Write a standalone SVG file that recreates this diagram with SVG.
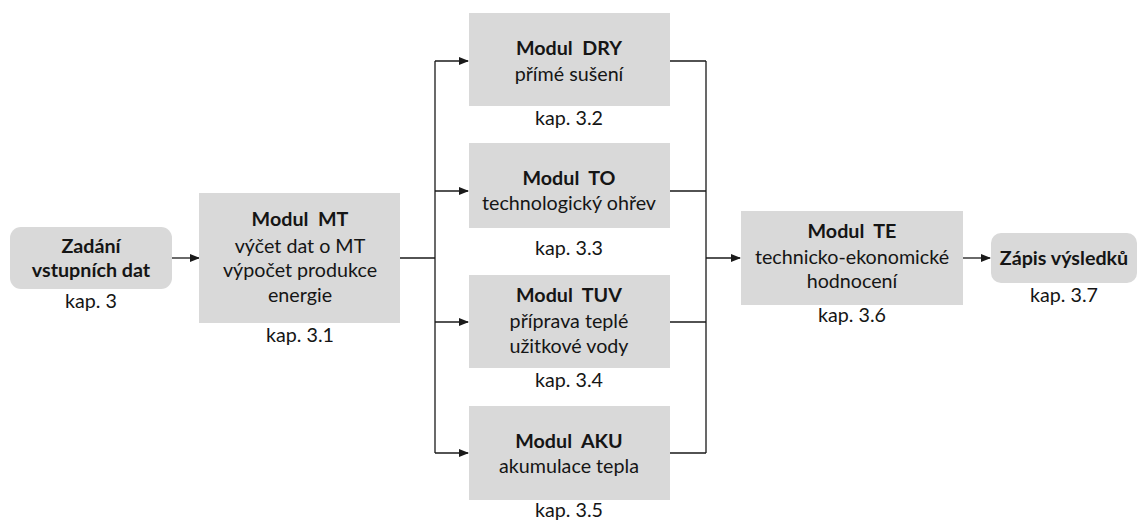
<svg xmlns="http://www.w3.org/2000/svg" width="1146" height="522" viewBox="0 0 1146 522">
<style>
text{font-family:Lato,"Open Sans","DejaVu Sans",sans-serif;font-size:19.7px;fill:#151515;text-anchor:middle;white-space:pre}
.b{font-weight:bold}
.box{fill:#d9d9d9}
.ln{stroke:#1a1a1a;stroke-width:1.3;fill:none}
</style>
<defs>
<marker id="ah" markerWidth="10" markerHeight="8" refX="9" refY="4" orient="auto" markerUnits="userSpaceOnUse">
<path d="M0,0 L10,4 L0,8 Z" fill="#1a1a1a"/>
</marker>
</defs>
<rect width="1146" height="522" fill="#ffffff"/>
<g id="connectors">
<line class="ln" x1="172" y1="258" x2="199" y2="258" marker-end="url(#ah)"/>
<path class="ln" d="M400,258 H435"/>
<path class="ln" d="M435,61 V453"/>
<line class="ln" x1="435" y1="61" x2="468" y2="61" marker-end="url(#ah)"/>
<line class="ln" x1="435" y1="191" x2="468" y2="191" marker-end="url(#ah)"/>
<line class="ln" x1="435" y1="322" x2="468" y2="322" marker-end="url(#ah)"/>
<line class="ln" x1="435" y1="453" x2="468" y2="453" marker-end="url(#ah)"/>
<path class="ln" d="M670,61 H706 M670,191 H706 M670,322 H706 M670,453 H706 M706,61 V453"/>
<line class="ln" x1="706" y1="258" x2="740" y2="258" marker-end="url(#ah)"/>
<line class="ln" x1="963" y1="258" x2="990" y2="258" marker-end="url(#ah)"/>
</g>
<g id="zadani">
<rect class="box" x="10" y="227" width="162" height="62" rx="11"/>
<text class="b" x="91" y="253">Zadání</text>
<text class="b" x="91" y="277">vstupních dat</text>
<text x="91" y="308">kap. 3</text>
</g>
<g id="mt">
<rect class="box" x="199" y="193" width="201" height="130"/>
<text class="b" x="300" y="226">Modul  MT</text>
<text x="300" y="253">výčet dat o MT</text>
<text x="300" y="277">výpočet produkce</text>
<text x="300" y="302">energie</text>
<text x="300" y="342">kap. 3.1</text>
</g>
<g id="dry">
<rect class="box" x="469" y="13" width="201" height="93"/>
<text class="b" x="569" y="55">Modul  DRY</text>
<text x="569" y="81">přímé sušení</text>
<text x="569" y="125">kap. 3.2</text>
</g>
<g id="to">
<rect class="box" x="469" y="143" width="201" height="85"/>
<text class="b" x="569" y="185">Modul  TO</text>
<text x="569" y="210">technologický ohřev</text>
<text x="569" y="255">kap. 3.3</text>
</g>
<g id="tuv">
<rect class="box" x="469" y="275" width="201" height="93"/>
<text class="b" x="569" y="302">Modul  TUV</text>
<text x="569" y="328">příprava teplé</text>
<text x="569" y="353">užitkové vody</text>
<text x="569" y="387">kap. 3.4</text>
</g>
<g id="aku">
<rect class="box" x="469" y="406" width="201" height="94"/>
<text class="b" x="569" y="448">Modul  AKU</text>
<text x="569" y="473">akumulace tepla</text>
<text x="569" y="517">kap. 3.5</text>
</g>
<g id="te">
<rect class="box" x="741" y="211" width="222" height="94"/>
<text class="b" x="852" y="238">Modul  TE</text>
<text x="852" y="264">technicko-ekonomické</text>
<text x="852" y="288">hodnocení</text>
<text x="852" y="322">kap. 3.6</text>
</g>
<g id="zapis">
<rect class="box" x="991" y="233" width="146" height="50" rx="10"/>
<text class="b" x="1064" y="265">Zápis výsledků</text>
<text x="1064" y="302">kap. 3.7</text>
</g>
</svg>
